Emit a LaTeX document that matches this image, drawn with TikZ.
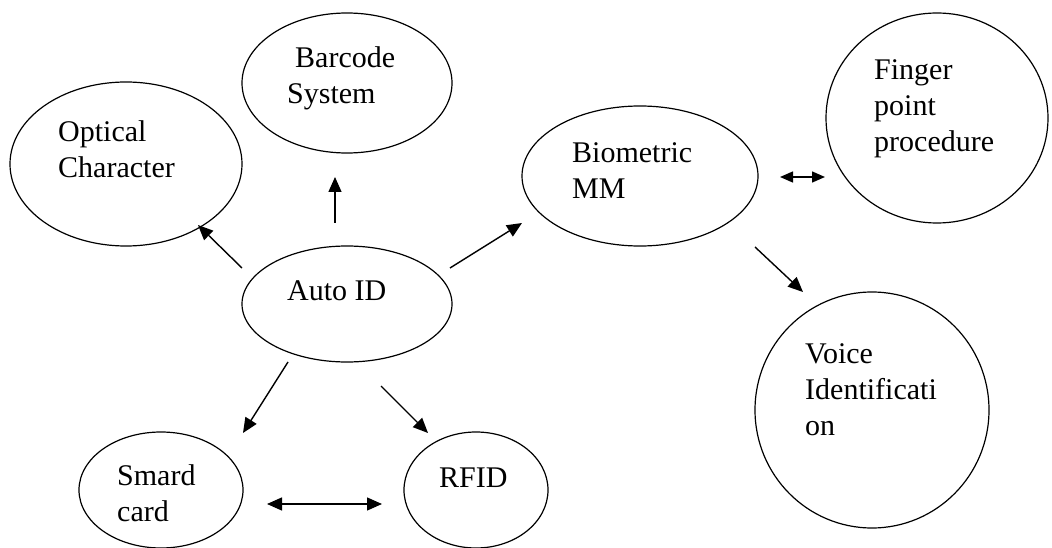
\documentclass[tikz,border=0pt]{standalone}
\usepackage{fontspec}
\setmainfont{Liberation Serif}
\usetikzlibrary{shapes.geometric,arrows.meta}

\tikzset{
  blob/.style={draw, ellipse, line width=1.2pt, inner sep=0pt},
  lbl/.style={anchor=base west, align=left, inner sep=0pt, font=\fontsize{30}{36}\selectfont},
  arr/.style={line width=1.4pt, -{Triangle[length=15pt,width=13pt]}},
  dbl/.style={line width=1.4pt, {Triangle[length=15pt,width=13pt]}-{Triangle[length=15pt,width=13pt]}},
}

\begin{document}
\begin{tikzpicture}[x=1pt,y=-1pt]
    \useasboundingbox (0,0) rectangle (1052,548);

    % Define ovals
    \node[blob, minimum width=210, minimum height=140] (barcode) at (347,83) {};
    \node[blob, minimum width=232, minimum height=164] (optical) at (126,164) {};
    \node[blob, minimum width=236, minimum height=140] (biometric) at (640,176) {};
    \node[blob, minimum width=222, minimum height=210] (finger) at (937,118) {};
    \node[blob, minimum width=210, minimum height=116] (autoid) at (347,304) {};
    \node[blob, minimum width=234, minimum height=236] (voice) at (872,410) {};
    \node[blob, minimum width=164, minimum height=116] (smard) at (161,490) {};
    \node[blob, minimum width=144, minimum height=116] (rfid) at (476,490) {};

    % Labels (base = baseline of the last line)
    \node[lbl] (barcodetxt) at (287,104) {\hspace*{8pt}Barcode\\System};
    \node[lbl] (opticaltxt) at (58,178) {Optical\\Character};
    \node[lbl] (biometrictxt) at (572,199) {Biometric\\MM};
    \node[lbl] (fingertxt) at (874,152) {Finger\\point\\procedure};
    \node[lbl] (autoidtxt) at (287,300) {Auto ID};
    \node[lbl] (voicetxt) at (805,435) {Voice\\Identificati\\on};
    \node[lbl] (smardtxt) at (117,521) {Smard\\card};
    \node[lbl] (rfidtxt) at (439,487) {RFID};

    % Arrow ends
    \foreach \name/\sx/\sy/\ex/\ey in {opt/242/268/198/225, bar/335/223/335/177,
        bio/450/268/522/223, sma/288/362/243/433, rfi/381/386/428/433,
        voi/755/247/803/292, card/267/504/382/504, fin/780/177/825/177} {
        \coordinate (\name A) at (\sx,\sy);
        \coordinate (\name B) at (\ex,\ey);
    }

    \foreach \name in {opt,bar,bio,sma,rfi,voi} {
        \draw[arr] (\name A) -- (\name B);
    }

    \draw[dbl] (cardA) -- (cardB);
    \draw[dbl, {Triangle[length=13pt,width=11pt]}-{Triangle[length=13pt,width=11pt]}] (finA) -- (finB);

\end{tikzpicture}
\end{document}
